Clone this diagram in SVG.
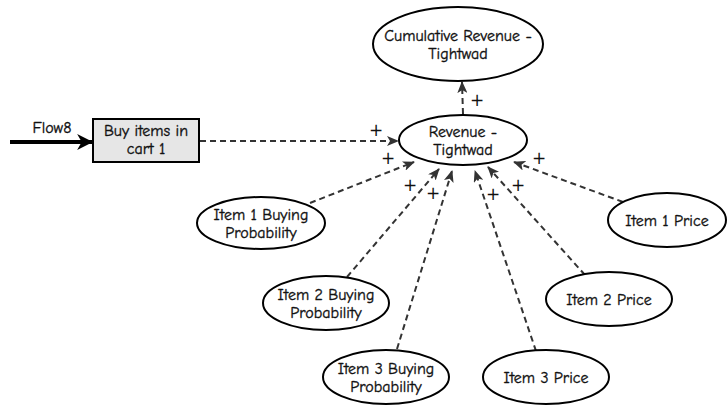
<svg xmlns="http://www.w3.org/2000/svg" width="727" height="406" viewBox="0 0 727 406">
<style>
text{font-family:"Comic Sans MS","Comic Neue","Liberation Sans",sans-serif;font-size:16px;fill:#111;stroke:#111;stroke-width:0.35;text-anchor:middle}
.node{fill:#fff;stroke:#000;stroke-width:2}
.box{fill:#e6e6e6;stroke:#000;stroke-width:2}
.dash{fill:none;stroke:#333;stroke-width:2;stroke-dasharray:6 4;marker-end:url(#dart)}
text.pl{font-family:"DejaVu Sans",sans-serif;font-size:17px;fill:#111;stroke:none}
</style>
<defs>
<marker id="dart" viewBox="0 0 12 10" refX="11" refY="5" markerWidth="12" markerHeight="10" markerUnits="userSpaceOnUse" orient="auto">
<path d="M0,0 L12,5 L0,10 L3,5 z" fill="#333"/>
</marker>
<marker id="flow" viewBox="0 0 14 14" refX="13" refY="7" markerWidth="16" markerHeight="16" markerUnits="userSpaceOnUse" orient="auto">
<path d="M0,0 L14,7 L0,14 L4,7 z" fill="#000"/>
</marker>
</defs>
<g id="connectors">
<line x1="10" y1="142" x2="92" y2="142" stroke="#000" stroke-width="4" marker-end="url(#flow)"/>
<text x="52" y="133">Flow8</text>
<line class="dash" x1="200" y1="141" x2="398" y2="141"/>
<text class="pl" x="376" y="136">+</text>
<line class="dash" x1="463" y1="114" x2="462" y2="82"/>
<text class="pl" x="477" y="106">+</text>
<line class="dash" x1="310" y1="203" x2="414" y2="162"/>
<text class="pl" x="388" y="164">+</text>
<line class="dash" x1="347" y1="277" x2="439" y2="169"/>
<text class="pl" x="410" y="191">+</text>
<line class="dash" x1="397" y1="349" x2="452" y2="171"/>
<text class="pl" x="433" y="199">+</text>
<line class="dash" x1="536" y1="351" x2="475" y2="171"/>
<text class="pl" x="493" y="200">+</text>
<line class="dash" x1="585" y1="275" x2="488" y2="167"/>
<text class="pl" x="518" y="191">+</text>
<line class="dash" x1="623" y1="202" x2="514" y2="162"/>
<text class="pl" x="539" y="164">+</text>
</g>
<g id="buy-items">
<rect class="box" x="93" y="119" width="106" height="43"/>
<text x="146" y="136">Buy items in</text>
<text x="146" y="154">cart 1</text>
</g>
<g id="cumulative-revenue">
<ellipse class="node" cx="458" cy="44" rx="85" ry="37"/>
<text x="458" y="41">Cumulative Revenue -</text>
<text x="458" y="59">Tightwad</text>
</g>
<g id="revenue">
<ellipse class="node" cx="463" cy="140" rx="64" ry="25"/>
<text x="463" y="137">Revenue -</text>
<text x="463" y="155">Tightwad</text>
</g>
<g id="item1-bp">
<ellipse class="node" cx="261" cy="223" rx="64" ry="26"/>
<text x="261" y="220">Item 1 Buying</text>
<text x="261" y="238">Probability</text>
</g>
<g id="item2-bp">
<ellipse class="node" cx="326" cy="303" rx="63" ry="27"/>
<text x="326" y="300">Item 2 Buying</text>
<text x="326" y="318">Probability</text>
</g>
<g id="item3-bp">
<ellipse class="node" cx="386" cy="377" rx="63" ry="27"/>
<text x="386" y="374">Item 3 Buying</text>
<text x="386" y="392">Probability</text>
</g>
<g id="item1-price">
<ellipse class="node" cx="667" cy="220" rx="59" ry="27"/>
<text x="667" y="226">Item 1 Price</text>
</g>
<g id="item2-price">
<ellipse class="node" cx="609" cy="299" rx="63" ry="27"/>
<text x="609" y="305">Item 2 Price</text>
</g>
<g id="item3-price">
<ellipse class="node" cx="546" cy="377" rx="63" ry="27"/>
<text x="546" y="383">Item 3 Price</text>
</g>
</svg>
